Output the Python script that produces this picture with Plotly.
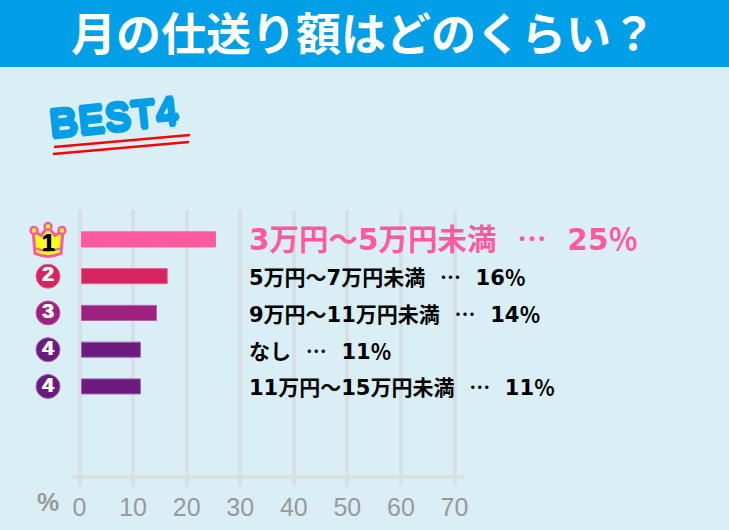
import plotly.graph_objects as go

TITLE = "月の仕送り額はどのくらい？"
BADGE = "BEST4"
categories = ["3万円～5万円未満", "5万円～7万円未満", "9万円～11万円未満", "なし", "11万円～15万円未満"]
values = [25, 16, 14, 11, 11]
ranks = ["1", "2", "3", "4", "4"]
bar_colors = ["#FF5A9E", "#D6245F", "#9E2080", "#6C1A7E", "#6C1A7E"]
bar_edges = ["#FF5A9E", "#E5608C", "#B460A5", "#9A68AC", "#9A68AC"]
tick_values = [0, 10, 20, 30, 40, 50, 60, 70]

W, H = 729, 530
L, R, T, B = 72, 464, 210, 475
CJK = "Noto Sans CJK JP"
SANS = "Liberation Sans"
LABEL_FONT = "DejaVu Sans, Noto Sans CJK JP"
BAR_BASE = 0.37
RANK_X = -5.88
LABEL_X = 31.3
X_MIN, X_MAX = -1.4, 71.77
U = (X_MAX - X_MIN) / (R - L)
SEP = f"\u2002\u2009<span style=\"font-family:'{CJK}'\">…</span>\u2002\u2009"


def px(x):
    return x / W


def py(y):
    return (B - y) / (B - T)


fig = go.Figure()
fig.add_trace(go.Bar(
    y=categories, x=values, base=BAR_BASE, orientation="h", width=0.41,
    marker=dict(color=bar_colors, line=dict(color=bar_edges, width=1)),
    hoverinfo="skip", showlegend=False,
))
fig.add_trace(go.Scatter(
    y=categories[1:], x=[RANK_X] * 4, xaxis="x2", yaxis="y", mode="markers+text",
    marker=dict(size=24, color=bar_colors[1:], line=dict(color=bar_edges[1:], width=1)),
    text=ranks[1:], textposition="middle center",
    textfont=dict(family=SANS, size=21, color="white", weight="bold",
                  shadow="0.5px 0 0 white, -0.5px 0 0 white"),
    hoverinfo="skip", showlegend=False,
))

annotations = [
    dict(xref="paper", yref="paper", x=px(363), y=py(32), text=TITLE, showarrow=False,
         font=dict(family=CJK, size=45, color="white", weight="bold"),
         xanchor="center", yanchor="middle"),
    dict(xref="paper", yref="paper", x=px(114), y=py(117), text=BADGE, showarrow=False, textangle=-6,
         font=dict(family=SANS, size=40, color="#009FE8", weight="bold",
                   shadow="1px 0 0 #009FE8, -1px 0 0 #009FE8, 0 2px 0 #009FE8, 0 -2px 0 #009FE8"),
         xanchor="center", yanchor="middle"),
    dict(xref="paper", yref="paper", x=px(48), y=py(502), text="%", showarrow=False,
         font=dict(family=SANS, size=25, color="#999999", weight="bold"),
         xanchor="center", yanchor="middle"),
    dict(xref="x2", yref="y", x=RANK_X, y=categories[0], yshift=-4, text=ranks[0], showarrow=False,
         font=dict(family=SANS, size=23, color="black", weight="bold",
                   shadow="0.5px 0 0 black, -0.5px 0 0 black"),
         xanchor="center", yanchor="middle"),
]
for i, (cat, val) in enumerate(zip(categories, values)):
    top = i == 0
    annotations.append(dict(
        x=LABEL_X, y=cat, xanchor="left", yanchor="middle", showarrow=False,
        yshift=2 if top else 0,
        text=f"{cat}{SEP}{val}％",
        font=dict(family=LABEL_FONT, size=29.5 if top else 21, color=bar_colors[0] if top else "black", weight="bold"),
    ))

CROWN = "M-15,9 L-13,-14 Q0,-20 13,-14 L15,9 L7,4 L0,13 L-7,4 Z"
shapes = [
    dict(type="rect", xref="paper", yref="paper", x0=px(0), x1=px(W), y0=py(0), y1=py(67),
         fillcolor="#009FE8", line_width=0, layer="below"),
    dict(type="line", xref="paper", yref="paper", x0=px(54), y0=py(147), x1=px(190), y1=py(135),
         line=dict(color="#FF0000", width=2.5)),
    dict(type="line", xref="paper", yref="paper", x0=px(53), y0=py(154), x1=px(189), y1=py(142),
         line=dict(color="#FF0000", width=2.5)),
]
crown_common = dict(xref="x2", yref="y", xsizemode="pixel", ysizemode="pixel",
                    xanchor=RANK_X, yanchor=0)
shapes.append(dict(type="path", path=CROWN, fillcolor="#FFFF1E",
                   line=dict(color="#FF5A9E", width=3), **crown_common))
shapes.append(dict(type="path", path="M-12,-9 Q0,-14 12,-9", line=dict(color="#FF5A9E", width=2), **crown_common))
for cx, cy in [(-14, 9), (0, 13), (14, 9)]:
    shapes.append(dict(type="circle", x0=cx - 3.5, x1=cx + 3.5, y0=cy - 3.5, y1=cy + 3.5, fillcolor="#FFFF1E",
                       line=dict(color="#FF5A9E", width=2.5), **crown_common))

fig.update_layout(
    width=W, height=H, autosize=False,
    margin=dict(l=0, r=0, t=T, b=H - B, pad=0, autoexpand=False),
    paper_bgcolor="#DAEEF6", plot_bgcolor="rgba(0,0,0,0)",
    annotations=annotations, shapes=shapes, showlegend=False,
    xaxis=dict(
        domain=[L / W, R / W],
        range=[X_MIN, X_MAX], tickmode="array", tickvals=tick_values, ticktext=[str(v) for v in tick_values],
        showgrid=True, gridcolor="#D5DFE4", gridwidth=4, zeroline=False,
        showline=True, linecolor="#D9E0E4", linewidth=4,
        ticks="outside", ticklen=7, tickwidth=4, tickcolor="#D9E0E4",
        tickfont=dict(family=SANS, size=25, color="#999999"),
    ),
    xaxis2=dict(
        domain=[0, 1], anchor="y", visible=False,
        range=[X_MIN - L * U, X_MIN + (W - L) * U],
    ),
    yaxis=dict(
        categoryorder="array", categoryarray=categories,
        range=[6.41, -0.80], showgrid=False, showticklabels=False, zeroline=False, showline=False,
    ),
)
fig.write_html("out.html", config={"displayModeBar": False},
               post_script="document.body.style.margin='0';document.body.style.overflow='hidden';")
